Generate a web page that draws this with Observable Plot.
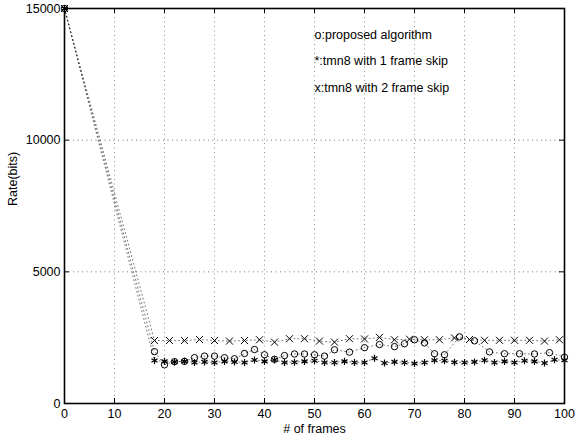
<!DOCTYPE html>
<html>
<head>
<meta charset="utf-8">
<script src="https://cdn.jsdelivr.net/npm/d3@7"></script>
<script src="https://cdn.jsdelivr.net/npm/@observablehq/plot@0.6"></script>
<style>
  html, body { margin: 0; padding: 0; background: #fff; }
</style>
</head>
<body>
<div id="chart"></div>
<script>
// Proposed algorithm (o)
const propFrames = [0,18,20,22,24,26,28,30,32,34,36,38,40,42,44,46,48,50,52,54,57,60,63,66,68,70,72,74,76,79,82,85,88,91,94,97,100];
const propRate   = [15000,1970,1470,1590,1600,1740,1800,1800,1740,1700,1900,2050,1850,1680,1820,1880,1880,1850,1800,2040,1950,2120,2240,2160,2270,2420,2300,1890,1850,2530,2380,1960,1890,1890,1880,1930,1760];

// tmn8 with 1 frame skip (*)
const skip1Frames = [0,18,20,22,24,26,28,30,32,34,36,38,40,42,44,46,48,50,52,54,56,58,60,62,64,66,68,70,72,74,76,78,80,82,84,86,88,90,92,94,96,98,100];
const skip1Rate   = [15000,1630,1600,1580,1600,1560,1580,1560,1600,1580,1560,1650,1600,1650,1560,1570,1600,1620,1560,1560,1600,1560,1560,1720,1540,1580,1560,1520,1560,1640,1620,1570,1560,1580,1640,1560,1600,1560,1620,1600,1540,1660,1640];

// tmn8 with 2 frame skip (x)
const skip2Frames = [0,18,21,24,27,30,33,36,39,42,45,48,51,54,57,60,63,66,69,72,75,78,81,84,87,90,93,96,99];
const skip2Rate   = [15000,2390,2390,2390,2430,2390,2370,2390,2420,2330,2460,2460,2370,2330,2460,2450,2510,2420,2440,2420,2420,2490,2430,2400,2400,2400,2400,2370,2420];

const xTicks = [0,10,20,30,40,50,60,70,80,90,100];
const yTicks = [0,5000,10000,15000];

const legendLabels = ["o:proposed algorithm", "*:tmn8 with 1 frame skip", "x:tmn8 with 2 frame skip"];
const legendX = [50, 50, 50];
const legendY = [14000, 13000, 12000];

const zip = (xs, ys) => xs.map((x, i) => ({x, y: ys[i]}));
const prop = zip(propFrames, propRate);
const skip1 = zip(skip1Frames, skip1Rate);
const skip2 = zip(skip2Frames, skip2Rate);
const legend = legendLabels.map((t, i) => ({t, x: legendX[i], y: legendY[i]}));

const W = 575, H = 442, mT = 8, mB = 39, mL = 64, mR = 11;
const plotW = W - mL - mR, plotH = H - mT - mB;
const tick = 5;

const lineStyle = {x: "x", y: "y", stroke: "#000", strokeOpacity: 0.6, strokeWidth: 0.9, strokeDasharray: "1,3"};

const chart = Plot.plot({
  width: W, height: H,
  marginTop: mT, marginBottom: mB, marginLeft: mL, marginRight: mR,
  style: {fontFamily: "'Liberation Sans', Arial, Helvetica, sans-serif", fontSize: "12.5px", background: "#fff", color: "#000"},
  x: {domain: [0, 100]},
  y: {domain: [0, 15000]},
  marks: [
    // grid
    Plot.ruleX(xTicks.slice(1, -1), {stroke: "#000", strokeOpacity: 0.55, strokeWidth: 0.8, strokeDasharray: "1,3.5"}),
    Plot.ruleY(yTicks.slice(1, -1), {stroke: "#000", strokeOpacity: 0.7, strokeWidth: 0.8, strokeDasharray: "1,3.5"}),
    // inward ticks
    Plot.ruleX(xTicks, {stroke: "#000", insetTop: plotH - tick}),
    Plot.ruleX(xTicks, {stroke: "#000", insetBottom: plotH - tick}),
    Plot.ruleY(yTicks, {stroke: "#000", insetRight: plotW - tick}),
    Plot.ruleY(yTicks, {stroke: "#000", insetLeft: plotW - tick}),
    // series lines
    Plot.line(prop, lineStyle),
    Plot.line(skip1, lineStyle),
    Plot.line(skip2, lineStyle),
    // markers
    Plot.dot(prop, {x: "x", y: "y", r: 3.2, stroke: "#000", strokeWidth: 1, fill: "none"}),
    Plot.dot(skip1, {x: "x", y: "y", r: 3.3, symbol: "asterisk", stroke: "#000", strokeWidth: 1.2}),
    Plot.dot(skip2, {x: "x", y: "y", r: 3.3, symbol: "times", stroke: "#000", strokeWidth: 1}),
    // in-plot legend text
    Plot.text(legend, {x: "x", y: "y", text: "t", textAnchor: "start", fontSize: 12.5, fill: "#000"}),
    // axes
    Plot.axisX({ticks: xTicks, tickSize: 0, tickPadding: 6, fontSize: 12.5, label: null, tickFormat: d => String(d)}),
    Plot.axisY({ticks: yTicks, tickSize: 0, tickPadding: 4, fontSize: 12.5, label: null, tickFormat: d => String(d)}),
    Plot.text(["# of frames"], {frameAnchor: "bottom", dy: 29, fontSize: 12.5, fill: "#000"}),
    Plot.text(["Rate(bits)"], {frameAnchor: "left", dx: -52, rotate: -90, fontSize: 12.5, fill: "#000"}),
    Plot.frame({stroke: "#000", strokeWidth: 1.6})
  ]
});

document.getElementById("chart").appendChild(chart);
</script>
</body>
</html>
